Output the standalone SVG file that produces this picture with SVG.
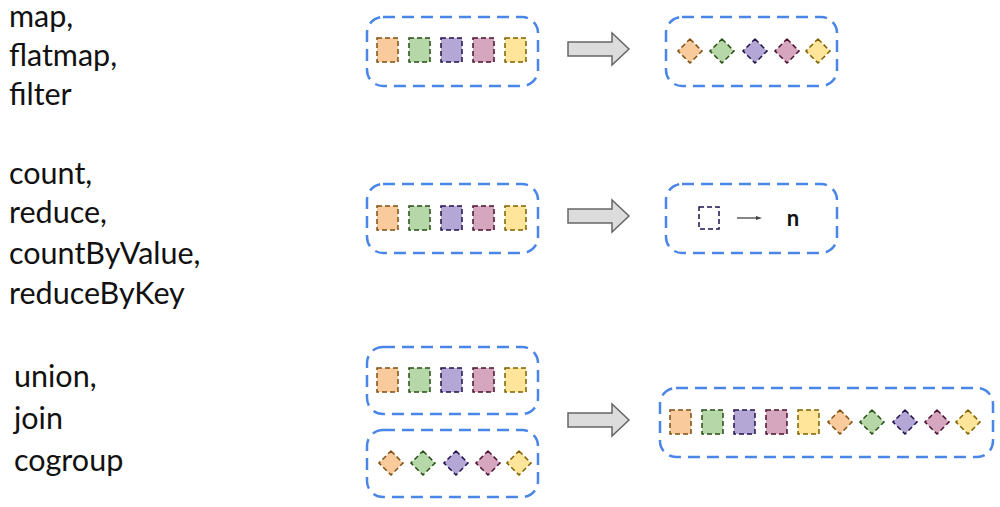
<svg xmlns="http://www.w3.org/2000/svg" width="1000" height="507" viewBox="0 0 1000 507">
<style>
.t{font-family:Lato,"Open Sans",sans-serif;font-size:30.5px;fill:#111}
.box{fill:none;stroke:#4a86e8;stroke-width:2.5;stroke-dasharray:12,7}
.s{stroke-width:1.5;stroke-dasharray:5,3}
.o{fill:#f9cb9c;stroke:#7f4f10}.g{fill:#b6d7a8;stroke:#274e13}.p{fill:#b4a7d6;stroke:#20124d}.k{fill:#d5a6bd;stroke:#4c1130}.y{fill:#ffe599;stroke:#7f6000}
.ar{fill:#dcdcdc;stroke:#666;stroke-width:1.5}
</style>
<defs>
<g id="sqs">
<rect class="s o" x="0" y="0" width="21" height="24"/>
<rect class="s g" x="32" y="0" width="21" height="24"/>
<rect class="s p" x="64" y="0" width="21" height="24"/>
<rect class="s k" x="96" y="0" width="21" height="24"/>
<rect class="s y" x="128" y="0" width="21" height="24"/>
</g>
<g id="dia">
<rect class="s o" x="-8.5" y="-8.5" width="17" height="17" transform="translate(0,0) rotate(45)"/>
<rect class="s g" x="-8.5" y="-8.5" width="17" height="17" transform="translate(32,0) rotate(45)"/>
<rect class="s p" x="-8.5" y="-8.5" width="17" height="17" transform="translate(65,0) rotate(45)"/>
<rect class="s k" x="-8.5" y="-8.5" width="17" height="17" transform="translate(97,0) rotate(45)"/>
<rect class="s y" x="-8.5" y="-8.5" width="17" height="17" transform="translate(128,0) rotate(45)"/>
</g>
<path id="arr" class="ar" d="M0,9 H44 V0 L61,16 L44,32 V23 H0 Z"/>
</defs>
<g id="labels">
<text class="t" x="9" y="27">map,</text>
<text class="t" x="9" y="66">flatmap,</text>
<text class="t" x="9" y="105">filter</text>
<text class="t" x="9" y="184">count,</text>
<text class="t" x="9" y="223">reduce,</text>
<text class="t" x="9" y="264">countByValue,</text>
<text class="t" x="9" y="304">reduceByKey</text>
<text class="t" x="14" y="387">union,</text>
<text class="t" x="14" y="429">join</text>
<text class="t" x="14" y="471">cogroup</text>
</g>
<g id="row1in"><rect class="box" x="367" y="17" width="171" height="69" rx="16"/><use href="#sqs" x="377" y="38"/></g>
<g id="row1out"><rect class="box" x="666" y="17" width="171" height="69" rx="16"/><use href="#dia" x="690" y="51"/></g>
<g id="row2in"><rect class="box" x="367" y="184" width="171" height="69" rx="16"/><use href="#sqs" x="377" y="206"/></g>
<g id="row2out"><rect class="box" x="666" y="184" width="171" height="69" rx="16"/>
<rect class="s" x="699" y="207" width="20" height="22" fill="none" stroke="#20124d"/>
<text x="793" y="226" style="font-family:Lato,sans-serif;font-size:22px;font-weight:bold;fill:#111" text-anchor="middle">n</text></g>
<g id="row3a"><rect class="box" x="367" y="347" width="171" height="67" rx="16"/><use href="#sqs" x="377" y="368"/></g>
<g id="row3b"><rect class="box" x="367" y="430" width="171" height="67" rx="16"/><use href="#dia" x="391" y="463"/></g>
<g id="row3out"><rect class="box" x="660" y="388" width="333" height="69" rx="16"/><use href="#sqs" x="670" y="410"/><use href="#dia" x="840" y="422"/></g>
<g id="connectors">
<use href="#arr" x="568" y="33"/>
<use href="#arr" x="568" y="200"/>
<use href="#arr" x="568" y="404"/>
<line x1="737" y1="218" x2="758" y2="218" stroke="#444" stroke-width="1.3"/>
<path d="M756,216 L762,218 L756,220 Z" fill="#444"/>
</g>
</svg>
